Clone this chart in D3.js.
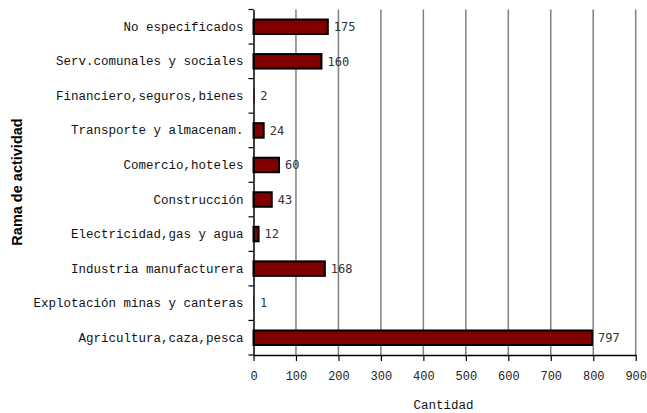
<!DOCTYPE html>
<html><head><meta charset="utf-8">
<script src="https://cdn.jsdelivr.net/npm/d3@7"></script>
<style>body{margin:0;background:#fff}</style>
</head><body>
<svg id="c" width="647" height="413"></svg>
<script>
const categories = ["Agricultura,caza,pesca","Explotación minas y canteras","Industria manufacturera","Electricidad,gas y agua","Construcción","Comercio,hoteles","Transporte y almacenam.","Financiero,seguros,bienes","Serv.comunales y sociales","No especificados"];
const values = [797,1,168,12,43,60,24,2,160,175];
const xTicks = [0,100,200,300,400,500,600,700,800,900];
const xTitle = "Cantidad";
const yTitle = "Rama de actividad";

const svg = d3.select("#c");
const m = {left:253.5, right:635.7, top:9.5, bottom:355};
const x = d3.scaleLinear().domain([0,900]).range([m.left, m.right]);
const y = d3.scaleBand().domain(categories.slice().reverse()).range([m.top, m.bottom]);
const barH = y.bandwidth()*0.42;

// gridlines
svg.append("g").selectAll("line").data(xTicks.filter(d=>d>0)).join("line")
  .attr("x1",d=>x(d)).attr("x2",d=>x(d)).attr("y1",m.top).attr("y2",m.bottom)
  .attr("stroke","#808080").attr("stroke-width",1.5);

// bars
svg.append("g").selectAll("rect").data(categories).join("rect")
  .attr("x",x(0)).attr("y",d=>y(d)+y.bandwidth()/2-barH/2)
  .attr("width",(d,i)=>x(values[i])-x(0)).attr("height",barH)
  .attr("fill","#800000").attr("stroke","#000")
  .attr("stroke-width",(d,i)=>(x(values[i])-x(0))<3?0:2);

// value labels
svg.append("g").selectAll("text").data(categories).join("text")
  .attr("x",(d,i)=>x(values[i])+6).attr("y",d=>y(d)+y.bandwidth()/2)
  .attr("dy","0.35em").attr("font-family","DejaVu Sans Mono").attr("font-size",12)
  .attr("fill","#333").text((d,i)=>values[i]);

// y axis
const yAxis = d3.axisLeft(y).tickSize(0).tickPadding(10);
const gy = svg.append("g").attr("transform",`translate(${m.left},0)`).call(yAxis);
gy.select(".domain").attr("stroke","#000").attr("stroke-width",1.5);
gy.selectAll("text").attr("font-family","Liberation Mono").attr("font-size",12.5).attr("fill","#111");
// boundary ticks
const bounds = categories.map(c=>y(c)).concat([m.bottom]);
svg.append("g").selectAll("line").data(bounds).join("line")
  .attr("x1",m.left-5).attr("x2",m.left).attr("y1",d=>d).attr("y2",d=>d)
  .attr("stroke","#000").attr("stroke-width",1.2);

// x axis
const xAxis = d3.axisBottom(x).tickValues(xTicks).tickSize(6).tickPadding(10).tickSizeOuter(0);
const gx = svg.append("g").attr("transform",`translate(0,${m.bottom})`).call(xAxis);
gx.select(".domain").attr("stroke","#000").attr("stroke-width",1.5);
gx.selectAll(".tick line").attr("stroke","#000").attr("stroke-width",1.2);
gx.selectAll("text").attr("font-family","Liberation Mono").attr("font-size",12).attr("fill","#222");

// titles
svg.append("text").attr("x",(m.left+m.right)/2-1).attr("y",409)
  .attr("text-anchor","middle").attr("font-family","Liberation Mono").attr("font-size",12.5)
  .attr("fill","#111").text(xTitle);
svg.append("text").attr("transform",`translate(22,${182}) rotate(-90)`)
  .attr("text-anchor","middle").attr("font-family","Liberation Sans").attr("font-weight","bold")
  .attr("font-size",14.5).attr("fill","#000").text(yTitle);
</script>
</body></html>
